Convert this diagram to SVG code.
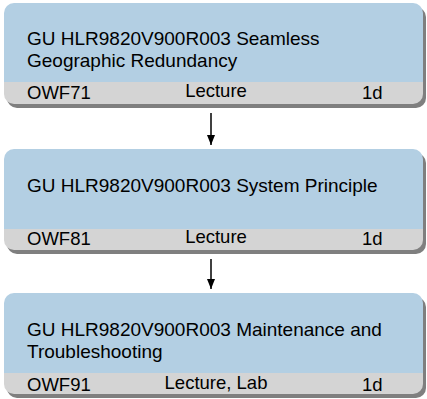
<svg xmlns="http://www.w3.org/2000/svg" width="427" height="399" viewBox="0 0 427 399">
<defs>
<style>
.shadow{fill:#7f7f7f}
.blue{fill:#b3cfe3}
.gray{fill:#d4d4d4}
text{font-family:"Liberation Sans",Arial,sans-serif;fill:#000}
.title{font-size:19px}
.meta{font-size:18.5px}
.mid{text-anchor:middle}
.conn{stroke:#000;stroke-width:1.5;fill:none}
</style>
<clipPath id="c1"><rect x="4" y="3" width="419" height="101" rx="10"/></clipPath>
<clipPath id="c2"><rect x="4" y="149" width="419" height="101" rx="10"/></clipPath>
<clipPath id="c3"><rect x="4" y="293" width="419" height="101" rx="10"/></clipPath>
<marker id="ah" viewBox="0 0 10 8" refX="10" refY="4" markerWidth="10" markerHeight="8" markerUnits="userSpaceOnUse" orient="auto">
<path d="M0,0 L10,4 L0,8 Z" fill="#000"/>
</marker>
</defs>
<g id="node1">
<rect class="shadow" x="7" y="7" width="419" height="101" rx="10"/>
<g clip-path="url(#c1)">
<rect class="blue" x="4" y="3" width="419" height="79"/>
<rect class="gray" x="4" y="82" width="419" height="22"/>
</g>
<text class="title" x="27" y="45">GU HLR9820V900R003 Seamless</text>
<text class="title" x="27" y="67">Geographic Redundancy</text>
<text class="meta" x="27" y="99">OWF71</text>
<text class="meta mid" x="216" y="97">Lecture</text>
<text class="meta" x="362" y="99">1d</text>
</g>
<g id="node2">
<rect class="shadow" x="7" y="153" width="419" height="101" rx="10"/>
<g clip-path="url(#c2)">
<rect class="blue" x="4" y="149" width="419" height="80"/>
<rect class="gray" x="4" y="229" width="419" height="21"/>
</g>
<text class="title" x="27" y="192">GU HLR9820V900R003 System Principle</text>
<text class="meta" x="27" y="245">OWF81</text>
<text class="meta mid" x="216" y="243">Lecture</text>
<text class="meta" x="362" y="245">1d</text>
</g>
<g id="node3">
<rect class="shadow" x="7" y="297" width="419" height="101" rx="10"/>
<g clip-path="url(#c3)">
<rect class="blue" x="4" y="293" width="419" height="80"/>
<rect class="gray" x="4" y="373" width="419" height="21"/>
</g>
<text class="title" x="27" y="336">GU HLR9820V900R003 Maintenance and</text>
<text class="title" x="27" y="358">Troubleshooting</text>
<text class="meta" x="27" y="391">OWF91</text>
<text class="meta mid" x="216" y="389">Lecture, Lab</text>
<text class="meta" x="362" y="391">1d</text>
</g>
<g id="connectors">
<line class="conn" x1="211" y1="113" x2="211" y2="145" marker-end="url(#ah)"/>
<line class="conn" x1="211" y1="259" x2="211" y2="289" marker-end="url(#ah)"/>
</g>
</svg>
